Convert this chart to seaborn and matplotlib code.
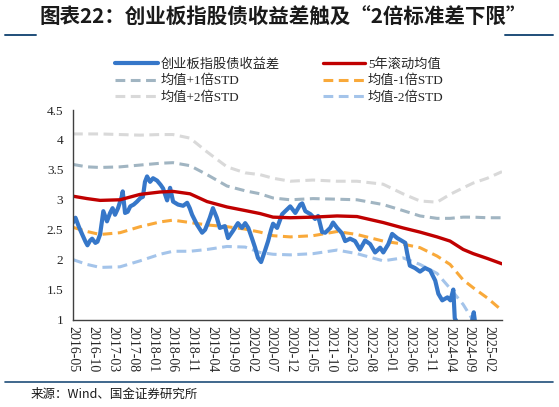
import pandas as pd
import seaborn as sns
import matplotlib.pyplot as plt
from matplotlib.lines import Line2D

# spread series
spread_dates = [
    "2016-05-01", "2016-05-20", "2016-06-15", "2016-07-09", "2016-08-05", "2016-08-20", "2016-09-10", "2016-09-25",
    "2016-10-20", "2016-11-05", "2016-11-25", "2016-12-10", "2016-12-20", "2017-01-17", "2017-02-10", "2017-03-01",
    "2017-03-20", "2017-04-12", "2017-05-10", "2017-05-18", "2017-06-05", "2017-06-25", "2017-07-15", "2017-08-10",
    "2017-09-05", "2017-10-01", "2017-10-20", "2017-11-05", "2017-11-21", "2017-12-14", "2018-01-06", "2018-02-06",
    "2018-03-05", "2018-03-24", "2018-04-24", "2018-05-17", "2018-06-09", "2018-07-17", "2018-08-25", "2018-09-25",
    "2018-10-15", "2018-11-02", "2018-12-11", "2019-01-18", "2019-02-10", "2019-02-25", "2019-03-18", "2019-04-11",
    "2019-05-11", "2019-06-03", "2019-07-12", "2019-08-05", "2019-09-12", "2019-10-20", "2019-11-20", "2019-12-15",
    "2020-01-08", "2020-02-06", "2020-02-29", "2020-03-22", "2020-04-15", "2020-05-15", "2020-06-08", "2020-07-01",
    "2020-07-16", "2020-08-16", "2020-09-24", "2020-11-01", "2020-11-25", "2021-01-03", "2021-02-10", "2021-02-25",
    "2021-03-21", "2021-04-29", "2021-06-04", "2021-06-27", "2021-07-28", "2021-08-21", "2021-09-28", "2021-10-20",
    "2021-11-20", "2021-12-28", "2022-01-21", "2022-02-28", "2022-04-07", "2022-05-15", "2022-06-23", "2022-08-01",
    "2022-09-08", "2022-10-17", "2022-11-10", "2022-12-19", "2023-01-17", "2023-02-25", "2023-04-05", "2023-04-28",
    "2023-05-13", "2023-06-02", "2023-07-11", "2023-08-19", "2023-09-27", "2023-11-05", "2023-12-14", "2024-01-07",
    "2024-02-06", "2024-03-17", "2024-04-09", "2024-05-01", "2024-05-12", "2024-06-25", "2024-08-10", "2024-09-20",
    "2024-10-05", "2024-10-18", "2025-01-04", "2025-05-10",
]
spread_vals = [
    2.62, 2.70, 2.55, 2.43, 2.30, 2.24, 2.32, 2.35,
    2.28, 2.30, 2.42, 2.65, 2.81, 2.64, 2.78, 2.86,
    2.75, 2.86, 3.05, 3.14, 2.78, 2.80, 2.89, 2.92,
    2.97, 3.03, 3.05, 3.30, 3.39, 3.30, 3.36, 3.32,
    3.25, 3.19, 2.99, 3.20, 2.97, 2.92, 2.90, 2.95,
    2.86, 2.75, 2.58, 2.45, 2.50, 2.58, 2.70, 2.86,
    2.70, 2.53, 2.56, 2.36, 2.48, 2.61, 2.53, 2.61,
    2.53, 2.35, 2.20, 2.03, 1.96, 2.15, 2.31, 2.50,
    2.60, 2.53, 2.76, 2.84, 2.89, 2.78, 2.92, 2.94,
    2.81, 2.76, 2.68, 2.73, 2.46, 2.45, 2.53, 2.62,
    2.53, 2.44, 2.31, 2.35, 2.31, 2.17, 2.32, 2.26,
    2.12, 2.20, 2.12, 2.26, 2.43, 2.36, 2.31, 2.28,
    2.10, 1.90, 1.86, 1.80, 1.86, 1.82, 1.65, 1.43,
    1.32, 1.37, 1.32, 1.50, 1.02, 0.85, 0.80, 0.95,
    1.12, 0.90, 0.80, 0.75,
]

# rolling mean and std bands
band_dates = [
    "2016-05-01", "2016-08-17", "2016-11-25", "2017-04-27", "2017-09-28", "2018-03-01", "2018-06-08",
    "2018-10-17", "2019-02-25", "2019-07-28", "2019-12-15", "2020-04-07", "2020-07-16", "2020-11-25",
    "2021-05-19", "2021-11-20", "2022-04-22", "2022-11-09", "2023-04-10", "2023-08-19", "2023-12-28",
    "2024-04-06", "2024-07-16", "2024-10-01", "2025-01-17", "2025-05-10",
]
mean_5y = [3.06, 3.02, 2.99, 3.00, 3.09, 3.13, 3.14, 3.10, 2.97, 2.88, 2.82, 2.77, 2.71, 2.70,
           2.71, 2.73, 2.72, 2.62, 2.53, 2.46, 2.38, 2.31, 2.17, 2.10, 2.02, 1.93]
upper_1 = [3.59, 3.55, 3.54, 3.55, 3.58, 3.61, 3.62, 3.57, 3.42, 3.23, 3.15, 3.10, 3.03, 3.00,
           3.02, 3.01, 3.00, 2.92, 2.82, 2.73, 2.69, 2.69, 2.71, 2.71, 2.70, 2.70]
upper_2 = [4.10, 4.10, 4.10, 4.09, 4.08, 4.09, 4.09, 4.03, 3.80, 3.55, 3.45, 3.42, 3.36, 3.31,
           3.33, 3.31, 3.31, 3.26, 3.10, 2.98, 2.96, 3.09, 3.20, 3.28, 3.36, 3.47]
lower_1 = [2.54, 2.47, 2.42, 2.45, 2.55, 2.63, 2.66, 2.62, 2.58, 2.55, 2.51, 2.46, 2.40, 2.38,
           2.40, 2.47, 2.42, 2.31, 2.26, 2.20, 2.06, 1.92, 1.66, 1.53, 1.36, 1.15]
lower_2 = [2.00, 1.92, 1.87, 1.88, 1.98, 2.09, 2.14, 2.14, 2.17, 2.22, 2.21, 2.12, 2.09, 2.08,
           2.10, 2.16, 2.10, 1.98, 2.03, 1.92, 1.77, 1.52, 1.25, 0.98, 0.68, 0.40]

sns.set_style("white")
plt.rcParams['font.family'] = ['Liberation Serif', 'Noto Sans CJK SC']
plt.rcParams['axes.unicode_minus'] = False

spread = pd.DataFrame({'date': pd.to_datetime(spread_dates), 'val': spread_vals})
bands = pd.DataFrame({'date': pd.to_datetime(band_dates), 'mean': mean_5y, 'u1': upper_1,
                      'u2': upper_2, 'l1': lower_1, 'l2': lower_2})

fig = plt.figure(figsize=(5.59, 4.07), dpi=100)
ax = fig.add_axes([73 / 559, 1 - 319.5 / 407, (502 - 73) / 559, (319.5 - 110) / 407])

dash = (0, (3.2, 1.8))
sns.lineplot(data=bands, x='date', y='u2', ax=ax, color='#D9D9D9', lw=2.2, linestyle=dash, label='均值+2倍STD')
sns.lineplot(data=bands, x='date', y='u1', ax=ax, color='#A1B5C2', lw=2.2, linestyle=dash, label='均值+1倍STD')
sns.lineplot(data=bands, x='date', y='l2', ax=ax, color='#A4C4EA', lw=2.2, linestyle=dash, label='均值-2倍STD')
sns.lineplot(data=bands, x='date', y='l1', ax=ax, color='#F9A93A', lw=2.2, linestyle=dash, label='均值-1倍STD')
sns.lineplot(data=spread, x='date', y='val', ax=ax, color='#3677C9', lw=3.0, label='创业板指股债收益差')
sns.lineplot(data=bands, x='date', y='mean', ax=ax, color='#C00000', lw=2.4, label='5年滚动均值')

handles = {l.get_label(): l for l in ax.get_lines()}
order = ['创业板指股债收益差', '均值+1倍STD', '均值+2倍STD', '5年滚动均值', '均值-1倍STD', '均值-2倍STD']
ax.legend([handles[k] for k in order], order, ncol=2, loc='center',
          bbox_to_anchor=(0.5, 1 - 81 / 407), bbox_transform=fig.transFigure,
          frameon=False, fontsize=9.5, handlelength=3.2, handletextpad=0.2,
          columnspacing=3.3, labelspacing=0.32)

ticks = pd.date_range("2016-05-01", "2025-02-01", freq="5MS")
ax.set_xticks(ticks)
ax.set_xticklabels([t.strftime('%Y-%m') for t in ticks], rotation=-90, fontsize=10)
ax.set_xlim(pd.Timestamp("2016-05-01"), pd.Timestamp("2025-05-10"))
ax.set_ylim(1, 4.5)
ax.set_yticks([1, 1.5, 2, 2.5, 3, 3.5, 4, 4.5])
ax.set_yticklabels(['1', '1.5', '2', '2.5', '3', '3.5', '4', '4.5'], fontsize=9.5)
ax.set_xlabel('')
ax.set_ylabel('')
ax.tick_params(axis='x', direction='in', length=3, width=0.8, pad=4.5, color='#404040')
ax.tick_params(axis='y', direction='in', length=3.5, width=0.8, pad=7, color='#404040')
for side in ['top', 'right']:
    ax.spines[side].set_visible(False)
for side in ['left', 'bottom']:
    ax.spines[side].set_color('#404040')
    ax.spines[side].set_linewidth(1)

# title and decoration
fig.text(0.506, 1 - 17 / 407, '图表22：创业板指股债收益差触及“2倍标准差下限”',
         ha='center', va='center', fontsize=14.8, fontweight='bold', style='italic',
         family=['Noto Sans CJK SC'], color='#1A1A1A')
fig.add_artist(Line2D([5 / 559, 36 / 559], [1 - 35 / 407] * 2, color='#1F4E79', lw=1.4))
fig.add_artist(Line2D([505 / 559, 553 / 559], [1 - 35 / 407] * 2, color='#1F4E79', lw=1.4))
fig.add_artist(Line2D([5 / 559, 553 / 559], [1 - 382 / 407] * 2, color='#1F4E79', lw=1.2))
fig.text(31 / 559, 1 - 394 / 407, '来源：Wind、国金证券研究所', ha='left', va='center',
         fontsize=9, family=['Noto Sans CJK SC'], color='#1A1A1A')

fig.savefig('out.png', dpi=100)
